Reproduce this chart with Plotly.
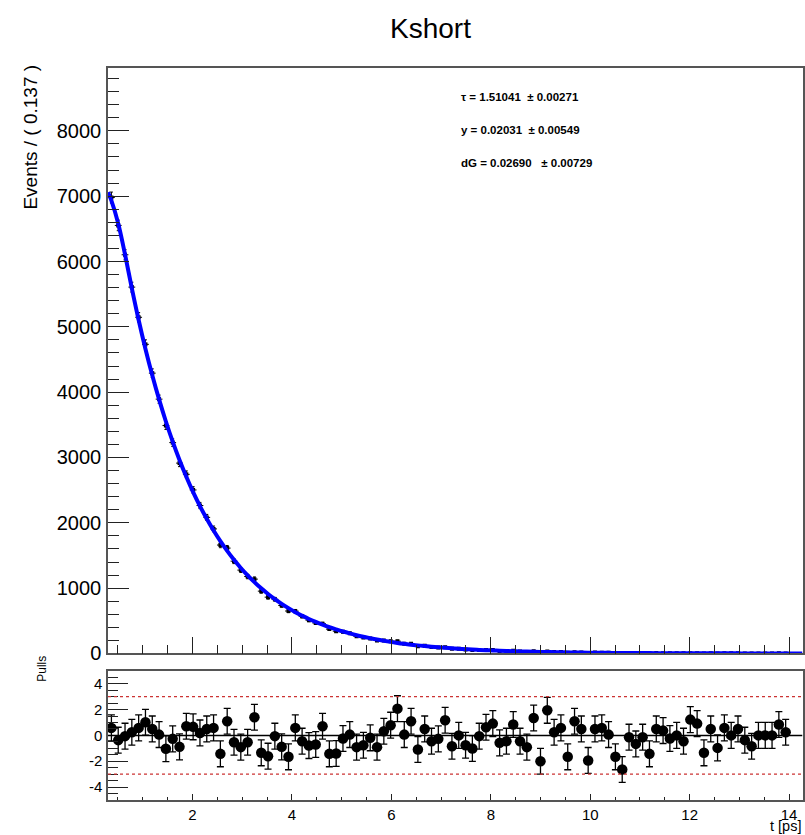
import numpy as np
import plotly.graph_objects as go

# ---------------- data ----------------
bin_low = 0.3
bin_width = 0.137
n_bins = 100

counts = [6979, 6552, 6103, 5608, 5146, 4732, 4291, 3893, 3489, 3228,
          2914, 2742, 2503, 2265, 2083, 1907, 1660, 1613, 1413, 1276,
          1178, 1138, 954, 862, 830, 735, 650, 648, 568, 510,
          467, 456, 373, 341, 332, 308, 265, 244, 231, 200,
          199, 189, 188, 149, 148, 112, 118, 98, 91, 97,
          72, 72, 60, 52, 55, 54, 52, 38, 35, 40,
          29, 24, 33, 14, 31, 21, 21, 10, 19, 16,
          6, 14, 13, 10, 4, 1, 7, 5, 6, 2,
          6, 5, 4, 4, 3, 5, 4, 1, 3, 1,
          3, 2, 2, 1, 1, 1, 1, 1, 2, 1]

fit_values = [6931, 6582, 6108, 5590, 5105, 4662, 4258, 3889, 3551, 3243,
              2962, 2705, 2470, 2256, 2061, 1882, 1719, 1570, 1433, 1309,
              1196, 1092, 997, 911, 832, 760, 694, 633, 579, 528,
              483, 441, 402, 368, 336, 307, 280, 256, 234, 213,
              195, 178, 162, 148, 135, 124, 113, 103, 94, 86,
              79, 72, 66, 60, 55, 50, 46, 42, 38, 35,
              32, 29, 26.5, 24.2, 22.1, 20.1, 18.4, 16.8, 15.3, 14.0,
              12.8, 11.7, 10.7, 9.7, 8.9, 8.1, 7.4, 6.8, 6.2, 5.7,
              5.2, 4.7, 4.3, 3.9, 3.6, 3.3, 3.0, 2.7, 2.5, 2.3,
              2.1, 1.9, 1.7, 1.6, 1.5, 1.3, 1.2, 1.1, 1.0, 0.9]
fit_edge_t = [0.3, 14.27]
fit_edge_values = [7060, 0.75]

pulls = [0.58, -0.37, -0.06, 0.24, 0.58, 1.02, 0.5, 0.06, -1.04, -0.27,
         -0.89, 0.71, 0.66, 0.19, 0.5, 0.58, -1.43, 1.09, -0.53, -0.91,
         -0.53, 1.4, -1.35, -1.61, -0.06, -0.89, -1.66, 0.58, -0.45, -0.79,
         -0.71, 0.71, -1.43, -1.4, -0.24, 0.06, -0.91, -0.76, -0.19, -0.91,
         0.32, 0.79, 2.07, 0.06, 1.09, -1.09, 0.5, -0.45, -0.27, 1.17,
         -0.84, 0.0, -0.76, -1.02, -0.06, 0.63, 0.91, -0.58, -0.45, 0.84,
         -0.45, -0.91, 1.35, -2.0, 1.94, 0.24, 0.58, -1.66, 1.09, 0.5,
         -1.94, 0.5, 0.58, 0.06, -1.66, -2.64, -0.14, -0.66, -0.14, -1.43,
         0.5, 0.37, -0.24, 0.0, -0.45, 1.22, 0.91, -1.35, 0.5, -0.97,
         0.58, 0.0, 0.5, -0.37, -0.84, 0.0, 0.0, 0.0, 0.84, 0.24]

y_ticks_pull = [-4, -2, 0, 2, 4]
y_ticks_pull_text = ["-4", "-2", "0", "2", "4"]
x_range = [0.3, 14.27]
y_range_main = [0, 8956]
y_range_pull = [-5, 5]

param_lines = ["\u03c4 = 1.51041 \u00a0\u00b1 0.00271",
               "y = 0.02031 \u00a0\u00b1 0.00549",
               "dG = 0.02690 \u00a0\u00a0\u00b1 0.00729"]

# ---------------- geometry helpers ----------------
W = 805
H = 847            # page height seen by the capture
REF_H = 835        # reference picture height
def fx(x):
    return x / W
def fy(y):
    return 1 - y / REF_H

centers = bin_low + bin_width * (np.arange(n_bins) + 0.5)
counts_arr = np.array(counts, dtype=float)
count_err = np.sqrt(counts_arr)

FONT = "Liberation Sans, Arial, Helvetica, sans-serif"
frame_col = "#555555"
tick_col = "#222222"

fig = go.Figure()

fig.add_trace(go.Scatter(
    x=centers, y=counts_arr, mode="markers",
    marker=dict(symbol="square", size=4, color="black"),
    error_y=dict(type="data", array=count_err, visible=True, color="black", thickness=1, width=1.5),
    error_x=dict(type="constant", value=bin_width / 2, visible=True, color="black", thickness=1, width=0),
    xaxis="x", yaxis="y", hoverinfo="skip"))

fit_t = np.concatenate([[fit_edge_t[0]], centers, [fit_edge_t[1]]])
fit_y = np.concatenate([[fit_edge_values[0]], fit_values, [fit_edge_values[1]]])
fig.add_trace(go.Scatter(
    x=fit_t, y=fit_y, mode="lines", line=dict(color="#0000ff", width=4, shape="spline"),
    xaxis="x", yaxis="y", hoverinfo="skip"))

fig.add_trace(go.Scatter(
    x=centers, y=pulls, mode="markers",
    marker=dict(symbol="circle", size=10.5, color="black"),
    error_y=dict(type="constant", value=1, visible=True, color="black", thickness=1.3, width=3.5),
    xaxis="x2", yaxis="y2", hoverinfo="skip"))

x_dom = [fx(108), fx(802.5)]

fig.update_layout(
    width=W, height=H,
    margin=dict(l=0, r=0, t=0, b=0),
    paper_bgcolor="white", plot_bgcolor="white",
    showlegend=False,
    font=dict(family=FONT, color="black"),
    xaxis=dict(domain=x_dom, range=x_range, anchor="y", showticklabels=False,
               ticks="inside", tick0=0, dtick=2, ticklen=17, tickcolor=tick_col, tickwidth=1,
               minor=dict(ticks="inside", tick0=0, dtick=0.5, ticklen=9, tickcolor=tick_col, tickwidth=1),
               showline=True, mirror=True, linecolor=frame_col, linewidth=1.5,
               showgrid=False, zeroline=False),
    yaxis=dict(domain=[fy(652.7), fy(68.3)], range=y_range_main, anchor="x",
               ticks="inside", tick0=0, dtick=1000, ticklen=21, tickcolor=tick_col, tickwidth=1,
               minor=dict(ticks="inside", tick0=0, dtick=200, ticklen=11, tickcolor=tick_col, tickwidth=1),
               tickfont=dict(size=20, family=FONT, color="black"), ticklabelstandoff=1,
               showline=True, mirror=True, linecolor=frame_col, linewidth=1.5,
               showgrid=False, zeroline=False),
    xaxis2=dict(domain=x_dom, range=x_range, anchor="y2",
                ticks="inside", tick0=0, dtick=2, ticklen=6, tickcolor=tick_col, tickwidth=1,
                minor=dict(ticks="inside", tick0=0, dtick=0.5, ticklen=3, tickcolor=tick_col, tickwidth=1),
                tickfont=dict(size=15, family=FONT, color="black"),
                showline=True, mirror=True, linecolor=frame_col, linewidth=1.5,
                showgrid=False, zeroline=False),
    yaxis2=dict(domain=[fy(799), fy(670)], range=y_range_pull, anchor="x2",
                tickvals=y_ticks_pull, ticktext=y_ticks_pull_text,
                ticks="inside", ticklen=20, tickcolor=tick_col, tickwidth=1,
                minor=dict(ticks="inside", tick0=0, dtick=0.5, ticklen=10, tickcolor=tick_col, tickwidth=1),
                tickfont=dict(size=15, family=FONT, color="black"), ticklabelstandoff=1,
                showline=True, mirror=True, linecolor=frame_col, linewidth=1.5,
                showgrid=False, zeroline=False),
)

# reference lines in the pull panel
fig.add_shape(type="line", xref="x2", yref="y2", x0=x_range[0], x1=x_range[1], y0=0, y1=0,
              line=dict(color="black", width=1.5))
for lvl in (3, -3):
    fig.add_shape(type="line", xref="x2", yref="y2", x0=x_range[0], x1=x_range[1], y0=lvl, y1=lvl,
                  line=dict(color="#cc3333", width=1.2, dash="3px,3px"))

ann = []
ann.append(dict(text="Kshort", x=fx(430), y=fy(28), xref="paper", yref="paper",
                xanchor="center", yanchor="middle", showarrow=False,
                font=dict(size=28, family=FONT, color="black")))
ann.append(dict(text="Events / ( 0.137 )", x=fx(31), y=fy(63), xref="paper", yref="paper",
                xanchor="center", yanchor="top", textangle=-90, showarrow=False,
                font=dict(size=19, family=FONT, color="black")))
ann.append(dict(text="Pulls", x=fx(42), y=fy(653), xref="paper", yref="paper",
                xanchor="center", yanchor="top", textangle=-90, showarrow=False,
                font=dict(size=12, family=FONT, color="black")))
ann.append(dict(text="t [ps]", x=fx(803), y=fy(825), xref="paper", yref="paper",
                xanchor="right", yanchor="middle", showarrow=False,
                font=dict(size=14.5, family=FONT, color="black")))
for i, line in enumerate(param_lines):
    ann.append(dict(text="<b>" + line + "</b>", x=fx(459), y=fy(97 + 33 * i), xref="paper", yref="paper",
                    xanchor="left", yanchor="middle", showarrow=False,
                    font=dict(size=11.5, family=FONT, color="black")))
fig.update_layout(annotations=ann)

fig.write_html(
    "out.html",
    config={"displayModeBar": False},
    post_script=("document.body.style.margin='0';document.body.style.overflow='hidden';"
                 "var d=document.getElementById('{plot_id}');if(d){d.style.display='block';}"))
